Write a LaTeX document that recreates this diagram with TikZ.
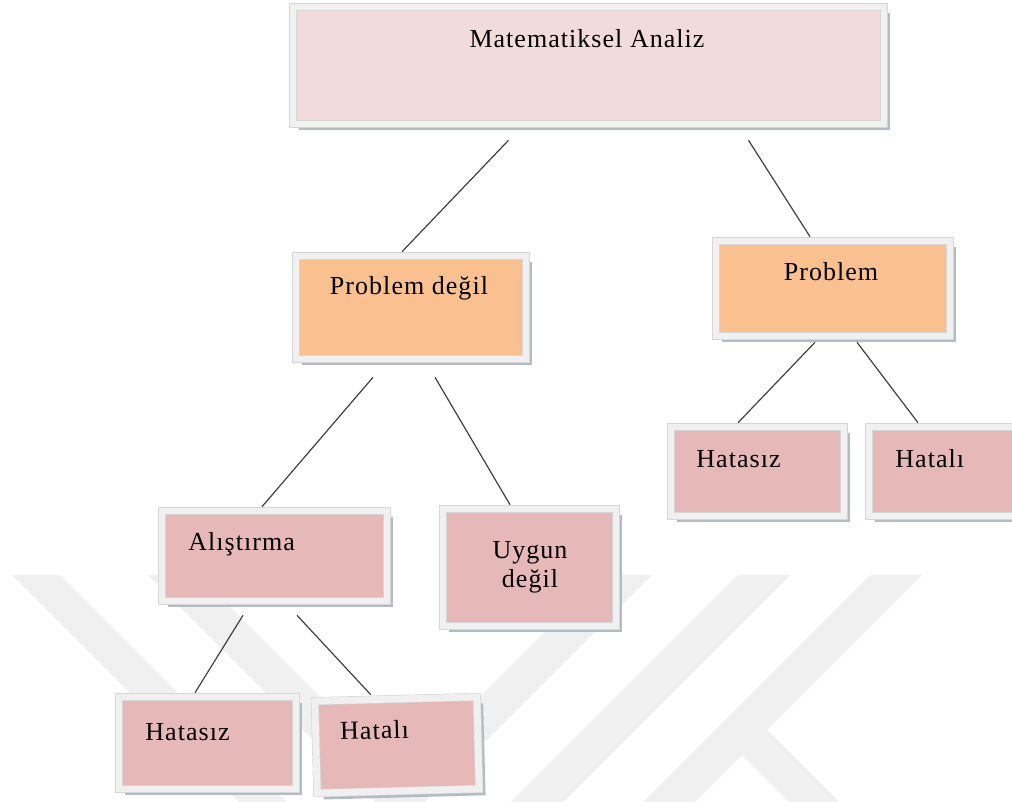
\documentclass[tikz,border=0pt]{standalone}
\usepackage{fontspec}
\setmainfont{Liberation Serif}[LetterSpace=4]
\usetikzlibrary{positioning,calc,shadows}

\definecolor{analizpink}{HTML}{F2DCDB}
\definecolor{problemorange}{HTML}{FAC090}
\definecolor{answerpink}{HTML}{E6B9B8}
\definecolor{framegray}{HTML}{F0F0F0}
\definecolor{framelinegray}{HTML}{D6D6D6}
\definecolor{shadowgray}{HTML}{B5BBC6}

\begin{document}
\begin{tikzpicture}[
    x=0.5pt, y=-0.5pt,
    box/.style={rectangle, inner sep=0pt, draw=framelinegray, double=framegray, double distance=3.4pt, line width=0.3pt,
        drop shadow={shadow xshift=3.2pt, shadow yshift=-3.2pt, fill=shadowgray, opacity=1}},
    topbox/.style={box, fill=analizpink},
    orangebox/.style={box, fill=problemorange},
    pinkbox/.style={box, fill=answerpink},
    txt/.style={inner sep=0pt, font=\fontsize{13}{14.5}\selectfont},
    link/.style={draw=black!75, line width=0.6pt},
    wmark/.style={fill=black!6}
]

\useasboundingbox (0,0) rectangle (1012,802);

% Watermark
\begin{scope}
\clip (0,0) rectangle (1012,802);
\fill[wmark] (12,575) -- (60,575) -- (287,802) -- (239,802) -- cycle;
\fill[wmark] (148,575) -- (198,575) -- (425,802) -- (375,802) -- cycle;
\fill[wmark] (602,575) -- (652,575) -- (425,802) -- (375,802) -- cycle;
\fill[wmark] (738,575) -- (790,575) -- (563,802) -- (511,802) -- cycle;
\fill[wmark] (870,575) -- (922,575) -- (695,802) -- (643,802) -- cycle;
\fill[wmark] (767,730) -- (839,802) -- (789,802) -- (740,753) -- cycle;
\end{scope}

% Boxes
\node [topbox, minimum width=295.5pt, minimum height=58.5pt] (analiz) at (588.5,65.5) {};
\node [orangebox, minimum width=115pt, minimum height=51.5pt] (pdegil) at (411,307.5) {};
\node [orangebox, minimum width=117pt, minimum height=47.5pt] (problem) at (833,288.5) {};
\node [pinkbox, minimum width=86.5pt, minimum height=44.5pt] (hatasizR) at (757.5,471.5) {};
\node [pinkbox, minimum width=78.5pt, minimum height=44.5pt] (hataliR) at (947.5,471.5) {};
\node [pinkbox, minimum width=112.5pt, minimum height=45pt] (alistirma) at (274.5,556) {};
\node [pinkbox, minimum width=86.5pt, minimum height=58.5pt] (uygun) at (529.5,567.5) {};
\node [pinkbox, minimum width=88.5pt, minimum height=46pt] (hatasizL) at (207.5,743) {};
\node [pinkbox, minimum width=81pt, minimum height=46pt, rotate=1.5] (hataliL) at (397,745) {};

% Texts
\node [txt, anchor=base] (analiz-t) at (587,48) {Matematiksel Analiz};
\node [txt, anchor=base] (pdegil-t) at (409,295) {Problem değil};
\node [txt, anchor=base] (problem-t) at (831,281) {Problem};
\node [txt, anchor=base west] (hatasizR-t) at (696,467) {Hatasız};
\node [txt, anchor=base west] (hataliR-t) at (895,467) {Hatalı};
\node [txt, anchor=base west] (alistirma-t) at (188,550) {Alıştırma};
\node [txt, anchor=base, align=center] (uygun-t) at (530,587) {Uygun\\değil};
\node [txt, anchor=base west] (hatasizL-t) at (145,740) {Hatasız};
\node [txt, anchor=base west, rotate=1.5] (hataliL-t) at (340,740) {Hatalı};

% Links
\draw [link] ($(analiz.south)+(-80,16)$) -- ($(pdegil.north)+(-9,-4)$);
\draw [link] ($(analiz.south)+(160,16)$) -- ($(problem.north)+(-23,-4)$);
\draw [link] ($(pdegil.south)+(-38,18)$) -- ($(alistirma.north)+(-12.5,-4)$);
\draw [link] ($(pdegil.south)+(24,18)$) -- ($(uygun.north)+(-19.5,-4)$);
\draw [link] ($(problem.south)+(-18,6)$) -- ($(hatasizR.north)+(-19.5,-4)$);
\draw [link] ($(problem.south)+(24,6)$) -- ($(hataliR.north)+(-29.5,-4)$);
\draw [link] ($(alistirma.south)+(-31.5,14)$) -- ($(hatasizL.north)+(-12.5,-4)$);
\draw [link] ($(alistirma.south)+(22.5,14)$) -- ($(hataliL.north)+(-25,-4)$);

\end{tikzpicture}
\end{document}
